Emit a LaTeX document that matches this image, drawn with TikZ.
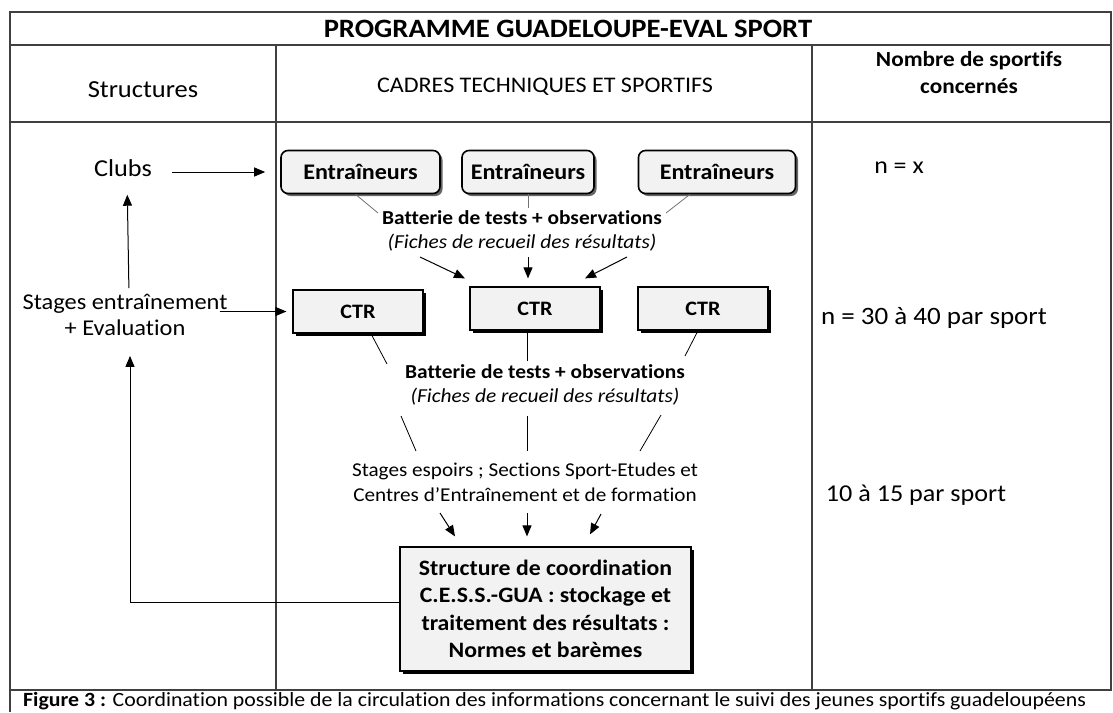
\documentclass[tikz,border=0pt]{standalone}
\usepackage{fontspec}
\setmainfont{Carlito}[FakeStretch=1.08,Ligatures=NoCommon]
\usetikzlibrary{shadows,arrows.meta}
\newcommand\fsz[2]{\fontsize{#1}{#2}\selectfont}
\definecolor{boxfill}{HTML}{F2F2F2}
\definecolor{rule}{HTML}{404040}
\begin{document}
\begin{tikzpicture}[x=1pt,y=-1pt,
  frame/.style={draw=rule,line width=1.3pt},
  arr/.style={-{Triangle[length=11pt,width=9pt]},line width=1pt},
  thinline/.style={line width=0.8pt},
  greyline/.style={draw=black!55,line width=0.8pt},
  boxE/.style={draw,line width=1.6pt,rounded corners=7pt,fill=boxfill,
    minimum height=43pt,inner sep=0pt,font=\bfseries\fsz{22.3}{26},
    drop shadow={shadow xshift=2.5pt,shadow yshift=-2.5pt,fill=black!60,opacity=1}},
  boxC/.style={draw,line width=1.2pt,fill=boxfill,minimum height=43pt,inner sep=0pt,
    font=\bfseries\fsz{20.5}{24},
    drop shadow={shadow xshift=3pt,shadow yshift=-3pt,fill=black,opacity=1}},
  plain/.style={inner sep=0pt,align=center}]
\useasboundingbox (0,0) rectangle (1113,712);
\fill[white] (0,0) rectangle (1113,712);

% table frame
\draw[frame] (10,12) rectangle (1111,690);
\draw[frame] (10,45) -- (1111,45);
\draw[frame] (10,122) -- (1111,122);
\draw[frame] (276,45) -- (276,690);
\draw[frame] (812,45) -- (812,690);
\draw[frame] (10,690) -- (10,712);

% headings
\node[plain,font=\bfseries\fsz{26.5}{30}] (title) at (568,29) {PROGRAMME GUADELOUPE-EVAL SPORT};
\node[plain,font=\fsz{24.5}{28}] (hstruct) at (143,90) {Structures};
\node[plain,font=\fsz{22.3}{26}] (hcadres) at (545,87) {CADRES TECHNIQUES ET SPORTIFS};
\node[plain,font=\bfseries\fsz{21.5}{27}] (hnombre) at (969,73) {Nombre de sportifs\\concernés};

% left column
\node[plain,font=\fsz{24.3}{28}] (clubs) at (123,168) {Clubs};
\node[plain,font=\fsz{22.6}{26}] (stages) at (125,315) {Stages entraînement\\+ Evaluation};

% coaches
\node[boxE,minimum width=159pt] (e1) at (360.5,172) {Entraîneurs};
\node[boxE,minimum width=132pt] (e2) at (528,172) {Entraîneurs};
\node[boxE,minimum width=157pt] (e3) at (717,172) {Entraîneurs};

\node[plain,font=\fsz{19.8}{24}] (batt1) at (522,231)
  {\textbf{Batterie de tests + observations}\\\textit{(Fiches de recueil des résultats)}};

% CTR boxes
\node[boxC,minimum width=130pt] (ctr1) at (358,311.5) {CTR};
\node[boxC,minimum width=130pt] (ctr2) at (535,308.5) {CTR};
\node[boxC,minimum width=130pt] (ctr3) at (703,308.5) {CTR};

\node[plain,font=\fsz{19.8}{24}] (batt2) at (545,385)
  {\textbf{Batterie de tests + observations}\\\textit{(Fiches de recueil des résultats)}};

\node[plain,font=\fsz{19.6}{25}] (espoirs) at (525,482.5)
  {Stages espoirs ; Sections Sport-Etudes et\\Centres d’Entraînement et de formation};

% coordination structure
\node[boxC,minimum width=291pt,minimum height=124pt,font=\bfseries\fsz{22}{27.3},align=center] (coord) at (545.5,609)
  {Structure de coordination\\C.E.S.S.-GUA : stockage et\\traitement des résultats :\\Normes et barèmes};

% right column
\node[plain,font=\fsz{24}{28}] (nx) at (899,168) {n = x};
\node[plain,font=\fsz{25}{29}] (n30) at (934,318) {n = 30 à 40 par sport};
\node[plain,font=\fsz{24.2}{29}] (n10) at (916,495) {10 à 15 par sport};

% caption
\node[plain,anchor=west,font=\fsz{20.2}{24}] (caption) at (23,701)
  {\textbf{Figure 3 :} Coordination possible de la circulation des informations concernant le suivi des jeunes sportifs guadeloupéens};

% free ends of the connectors
\coordinate (b1l) at (378,213);
\coordinate (b1m) at (528,208);
\coordinate (b1r) at (666,213);
\coordinate (a1l) at (420,257);
\coordinate (a1m) at (528,257);
\coordinate (a1r) at (627,257);
\coordinate (c2l) at (387,364);
\coordinate (c2m) at (527,361);
\coordinate (c2r) at (685,356);
\coordinate (d2l) at (401,416);
\coordinate (d2m) at (527,416);
\coordinate (d2r) at (661,415);
\coordinate (d3l) at (416,451);
\coordinate (d3m) at (527,451);
\coordinate (d3r) at (640,451);
\coordinate (f1l) at (440,513);
\coordinate (f1m) at (527,513);
\coordinate (f1r) at (601,514);

% left column flows
\draw[arr,shorten <=20pt,shorten >=15pt] (clubs.east |- e1.west) -- (e1.west);
\draw[arr,shorten <=-8pt,shorten >=6pt] (stages.east |- ctr1.west) -- (ctr1.west);
\draw[arr,shorten <=6pt,shorten >=18pt] ([xshift=4pt]stages.north) -- ([xshift=4pt]clubs.south);
\draw[arr,shorten >=20pt] ([yshift=7pt]coord.west) -| ([xshift=5pt]stages.south);

% coaches to test battery
\draw[greyline] ([xshift=-5pt]e1.south) -- (b1l);
\draw[greyline] (e2.south) -- (b1m);
\draw[greyline] ([xshift=-27pt]e3.south) -- (b1r);
\draw[arr] (a1l) -- ([xshift=-70pt,yshift=8pt]ctr2.north);
\draw[arr] (a1m) -- ([xshift=-7pt,yshift=8pt]ctr2.north);
\draw[arr] (a1r) -- ([xshift=50pt,yshift=8pt]ctr2.north);

% CTR to test battery
\draw[thinline] ([xshift=14pt,yshift=-2pt]ctr1.south) -- (c2l);
\draw[thinline] ([xshift=-8pt,yshift=-2pt]ctr2.south) -- (c2m);
\draw[thinline] ([xshift=-6pt,yshift=-2pt]ctr3.south) -- (c2r);
\draw[thinline] (d2l) -- (d3l);
\draw[thinline] (d2m) -- (d3m);
\draw[thinline] (d2r) -- (d3r);

% centres to coordination structure
\draw[arr] (f1l) -- ([xshift=-90.5pt,yshift=10pt]coord.north);
\draw[arr] (f1m) -- ([xshift=-18.5pt,yshift=10pt]coord.north);
\draw[arr] (f1r) -- ([xshift=44.5pt,yshift=12pt]coord.north);
\end{tikzpicture}
\end{document}
